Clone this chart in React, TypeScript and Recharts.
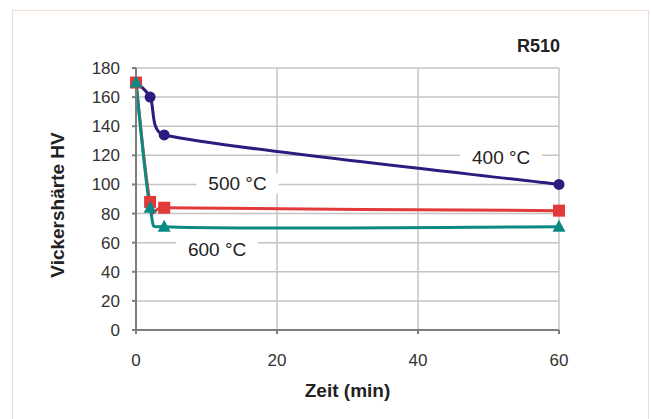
import React from 'react';
import { LineChart, Line, XAxis, YAxis, CartesianGrid, ReferenceDot, Label } from 'recharts';

// annealing time in minutes
const times = [0, 2, 4, 60];
// Vickers hardness per annealing temperature
const hv400 = [170, 160, 134, 100];
const hv500 = [170, 88, 84, 82];
const hv600 = [170, 84, 71, 71];

const xTicks = [0, 20, 40, 60];
const yTicks = [0, 20, 40, 60, 80, 100, 120, 140, 160, 180];

const curveNames = ['400 °C', '500 °C', '600 °C'];
const curveNameTimes = [51.8, 14.4, 11.5];
const curveNameValues = [118.5, 100.5, 55];

const NAVY = '#2b1c80';
const RED = '#e23a3a';
const TEAL = '#0b8a84';
const FONT = '"Liberation Sans", Arial, sans-serif';

const data = times.map((t, i) => ({ t, a: hv400[i], b: hv500[i], c: hv600[i] }));

// Spreadsheet-style smoothed line: cubic bezier per segment, control vectors are
// 1/6 of the neighbour chord, clamped so they never reach past the segment in x.
const smoothCurve = (context: any) => {
  let pts: number[][] = [];
  return {
    areaStart() {},
    areaEnd() {},
    lineStart() {
      pts = [];
    },
    point(x: number, y: number) {
      pts.push([+x, +y]);
    },
    lineEnd() {
      const n = pts.length;
      if (!n) return;
      context.moveTo(pts[0][0], pts[0][1]);
      for (let i = 0; i < n - 1; i++) {
        const p0 = pts[i - 1] || pts[i];
        const p1 = pts[i];
        const p2 = pts[i + 1];
        const p3 = pts[i + 2] || p2;
        const w = Math.abs(p2[0] - p1[0]);
        let v1 = [(p2[0] - p0[0]) / 6, (p2[1] - p0[1]) / 6];
        let v2 = [(p3[0] - p1[0]) / 6, (p3[1] - p1[1]) / 6];
        if (Math.abs(v1[0]) > w) v1 = v1.map((v) => (v * w) / Math.abs(v1[0]));
        if (Math.abs(v2[0]) > w) v2 = v2.map((v) => (v * w) / Math.abs(v2[0]));
        context.bezierCurveTo(p1[0] + v1[0], p1[1] + v1[1], p2[0] - v2[0], p2[1] - v2[1], p2[0], p2[1]);
      }
    },
  };
};

const CircleDot = (p: any) => (
  <circle key={`c${p.index}`} cx={p.cx} cy={p.cy} r={5.5} fill={NAVY} />
);
const SquareDot = (p: any) => (
  <rect key={`s${p.index}`} x={p.cx - 6} y={p.cy - 6} width={12} height={12} fill={RED} />
);
const TriangleDot = (p: any) => (
  <polygon
    key={`t${p.index}`}
    points={`${p.cx},${p.cy - 7} ${p.cx - 6.5},${p.cy + 5} ${p.cx + 6.5},${p.cy + 5}`}
    fill={TEAL}
  />
);

// text on a white patch, so the grid line behind it is broken like in the original
const curveTag = (text: string) => (p: any) => (
  <g>
    <rect x={p.cx - 41} y={p.cy - 10} width={82} height={20} fill="#fff" />
    <text x={p.cx} y={p.cy} textAnchor="middle" dominantBaseline="central" fontSize={19} fill="#222" fontFamily={FONT}>
      {text}
    </text>
  </g>
);

const YTitle = ({ viewBox }: any) => {
  const cx = viewBox.x + 1;
  const cy = viewBox.y + viewBox.height / 2 + 6;
  return (
    <text x={cx} y={cy} transform={`rotate(-90, ${cx}, ${cy})`} textAnchor="middle" dominantBaseline="central"
      fontSize={19} fontWeight="bold" fill="#222" fontFamily={FONT}>
      Vickershärte HV
    </text>
  );
};

const XTitle = ({ viewBox }: any) => (
  <text x={viewBox.x + viewBox.width / 2} y={viewBox.y + 60} textAnchor="middle" dominantBaseline="central"
    fontSize={19} fontWeight="bold" fill="#222" fontFamily={FONT}>
    Zeit (min)
  </text>
);

export default function App() {
  return (
    <div style={{ position: 'absolute', left: 0, top: 0, width: 651, height: 419, background: '#fff', overflow: 'hidden' }}>
      <div style={{ position: 'absolute', left: 12, top: 10, width: 635, height: 420, border: '1px solid #eddccf' }} />
      <div style={{ position: 'absolute', right: 91, top: 36, fontFamily: FONT, fontWeight: 'bold', fontSize: 18, color: '#222' }}>
        R510
      </div>
      <LineChart width={651} height={419} data={data} margin={{ top: 68, right: 92, bottom: 23, left: 56 }}
        style={{ position: 'absolute', left: 0, top: 0, fontFamily: FONT }}>
        <CartesianGrid stroke="#c4c4c4" strokeWidth={1.5} />
        <XAxis dataKey="t" type="number" domain={[0, 60]} ticks={xTicks} height={66}
          stroke="#7d7d7d" strokeWidth={2} tickSize={4} tickMargin={20}
          tick={{ fill: '#333', fontSize: 17 }}>
          <Label content={<XTitle />} />
        </XAxis>
        <YAxis type="number" domain={[0, 180]} ticks={yTicks} width={80} interval={0}
          stroke="#7d7d7d" strokeWidth={2} tickSize={4} tickMargin={12}
          tick={{ fill: '#333', fontSize: 17 }}>
          <Label content={<YTitle />} />
        </YAxis>
        {curveNames.map((name, i) => (
          <ReferenceDot key={name} x={curveNameTimes[i]} y={curveNameValues[i]} r={0} shape={curveTag(name)} />
        ))}
        <Line type={smoothCurve as any} dataKey="a" stroke={NAVY} strokeWidth={3} dot={CircleDot} isAnimationActive={false} />
        <Line type={smoothCurve as any} dataKey="b" stroke={RED} strokeWidth={3} dot={SquareDot} isAnimationActive={false} />
        <Line type={smoothCurve as any} dataKey="c" stroke={TEAL} strokeWidth={3} dot={TriangleDot} isAnimationActive={false} />
      </LineChart>
    </div>
  );
}
